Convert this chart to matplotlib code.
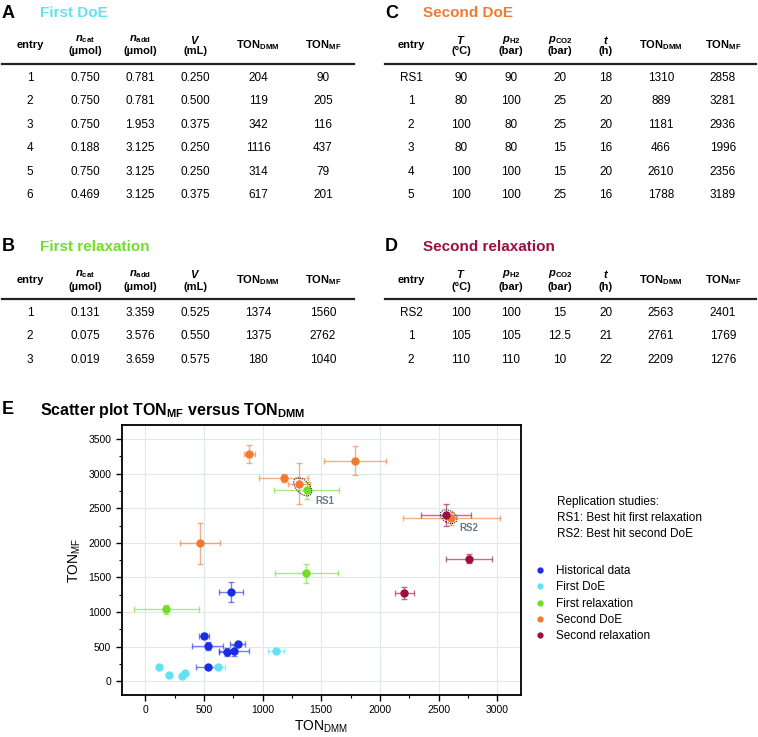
import matplotlib
matplotlib.use('Agg')
import matplotlib.pyplot as plt
from matplotlib.lines import Line2D
from matplotlib.patches import Ellipse
from matplotlib.colors import to_rgba
from matplotlib.ticker import MultipleLocator
from matplotlib.transforms import ScaledTranslation

plt.rcParams['font.family'] = ['Liberation Sans', 'DejaVu Sans']
plt.rcParams['mathtext.fontset'] = 'custom'
plt.rcParams['mathtext.rm'] = 'Liberation Sans'
plt.rcParams['mathtext.it'] = 'Liberation Sans:italic'
plt.rcParams['mathtext.bf'] = 'Liberation Sans:bold'
plt.rcParams['mathtext.bfit'] = 'Liberation Sans:italic:bold'
plt.rcParams['mathtext.sf'] = 'Liberation Sans'

# ---- table data ----
doe1_entry = ['1', '2', '3', '4', '5', '6']
doe1_ncat = ['0.750', '0.750', '0.750', '0.188', '0.750', '0.469']
doe1_nadd = ['0.781', '0.781', '1.953', '3.125', '3.125', '3.125']
doe1_vol = ['0.250', '0.500', '0.375', '0.250', '0.250', '0.375']
doe1_dmm = [204, 119, 342, 1116, 314, 617]
doe1_mf = [90, 205, 116, 437, 79, 201]

relax1_entry = ['1', '2', '3']
relax1_ncat = ['0.131', '0.075', '0.019']
relax1_nadd = ['3.359', '3.576', '3.659']
relax1_vol = ['0.525', '0.550', '0.575']
relax1_dmm = [1374, 1375, 180]
relax1_mf = [1560, 2762, 1040]

doe2_entry = ['RS1', '1', '2', '3', '4', '5']
doe2_T = ['90', '80', '100', '80', '100', '100']
doe2_pH2 = ['90', '100', '80', '80', '100', '100']
doe2_pCO2 = ['20', '25', '25', '15', '15', '25']
doe2_t = ['18', '20', '20', '16', '20', '16']
doe2_dmm = [1310, 889, 1181, 466, 2610, 1788]
doe2_mf = [2858, 3281, 2936, 1996, 2356, 3189]

relax2_entry = ['RS2', '1', '2']
relax2_T = ['100', '105', '110']
relax2_pH2 = ['100', '105', '110']
relax2_pCO2 = ['15', '12.5', '10']
relax2_t = ['20', '21', '22']
relax2_dmm = [2563, 2761, 2209]
relax2_mf = [2401, 1769, 1276]

# ---- scatter extras (error bars) ----
hist_dmm = [728, 501, 532, 788, 700, 754, 532]
hist_mf = [1289, 658, 509, 534, 418, 442, 211]
hist_xerr = [102, 43, 131, 63, 68, 128, 97]
hist_yerr = [151, 40, 63, 30, 60, 82, 30]

doe1_xerr = [0, 0, 0, 68, 0, 63]
doe1_yerr = [0, 0, 0, 20, 0, 15]
relax1_xerr = [270, 273, 276]
relax1_yerr = [140, 125, 63]
doe2_xerr = [97, 51, 209, 168, 415, 262]
doe2_yerr = [293, 127, 58, 298, 96, 207]
relax2_xerr = [213, 198, 81]
relax2_yerr = [159, 65, 82]

c_hist = '#1b2de0'
c_doe1 = '#62e2f4'
c_relax1 = '#70dd2a'
c_doe2 = '#f27a30'
c_relax2 = '#9c0f40'

W, H = 758, 737
fig = plt.figure(figsize=(W / 100, H / 100), dpi=100)


def fx(x):
    return x / W


def fy(y):
    return 1 - y / H


def put(x, y, s, **kw):
    kw.setdefault('ha', 'center')
    kw.setdefault('va', 'center')
    kw.setdefault('fontsize', 8.5)
    fig.text(fx(x), fy(y), s, **kw)


def rule(x0, x1, y):
    fig.add_artist(Line2D([fx(x0), fx(x1)], [fy(y), fy(y)], color='#222222',
                          lw=1.6, transform=fig.transFigure))


def section(letter, title, color, x0, y):
    put(x0, y, letter, ha='left', fontsize=13, fontweight='bold')
    put(x0 + 38, y, title, ha='left', fontsize=11, fontweight='bold', color=color)


def header(cols, heads, y_mid):
    for x, h in zip(cols, heads):
        if isinstance(h, tuple):
            put(x, y_mid - 5.5, h[0], fontsize=8)
            put(x, y_mid + 6.5, h[1], fontsize=8, fontweight='bold')
        else:
            put(x, y_mid, h, fontsize=8, fontweight='bold')


def body(cols, columns, y0, step=23.4):
    for ci, x in enumerate(cols):
        for ri, v in enumerate(columns[ci]):
            put(x, y0 + ri * step, str(v))


ton_dmm = r'$\mathbf{TON_{DMM}}$'
ton_mf = r'$\mathbf{TON_{MF}}$'
left_heads = ['entry',
              (r'$\mathbfit{n}_{\mathbf{cat}}$', '(µmol)'),
              (r'$\mathbfit{n}_{\mathbf{add}}$', '(µmol)'),
              (r'$\mathbfit{V}$', '(mL)'),
              ton_dmm, ton_mf]
right_heads = ['entry',
               (r'$\mathbfit{T}$', '(°C)'),
               (r'$\mathbfit{p}_{\mathbf{H2}}$', '(bar)'),
               (r'$\mathbfit{p}_{\mathbf{CO2}}$', '(bar)'),
               (r'$\mathbfit{t}$', '(h)'),
               ton_dmm, ton_mf]
left_cols = [30, 85, 140, 195, 258, 323]
right_cols = [411, 461, 511, 560, 606, 661, 723]

# A
section('A', 'First DoE', c_doe1, 2, 13)
header(left_cols, left_heads, 45)
rule(2, 354, 64)
body(left_cols, [doe1_entry, doe1_ncat, doe1_nadd, doe1_vol, doe1_dmm, doe1_mf], 78)

# B
section('B', 'First relaxation', c_relax1, 2, 247)
header(left_cols, left_heads, 280)
rule(2, 354, 299)
body(left_cols, [relax1_entry, relax1_ncat, relax1_nadd, relax1_vol, relax1_dmm, relax1_mf], 313)

# C
section('C', 'Second DoE', c_doe2, 385, 13)
header(right_cols, right_heads, 45)
rule(385, 756, 64)
body(right_cols, [doe2_entry, doe2_T, doe2_pH2, doe2_pCO2, doe2_t, doe2_dmm, doe2_mf], 78)

# D
section('D', 'Second relaxation', c_relax2, 385, 247)
header(right_cols, right_heads, 280)
rule(385, 756, 299)
body(right_cols, [relax2_entry, relax2_T, relax2_pH2, relax2_pCO2, relax2_t, relax2_dmm, relax2_mf], 313)

# E - scatter plot
put(2, 409, 'E', ha='left', fontsize=13, fontweight='bold')
put(40, 411, r'Scatter plot TON$_{\mathbf{MF}}$ versus TON$_{\mathbf{DMM}}$', ha='left',
    fontsize=11.5, fontweight='bold')

ax = fig.add_axes([fx(121.7), fy(695), (520.7 - 121.7) / W, (695 - 425.3) / H])

series = [
    ('Historical data', hist_dmm, hist_mf, hist_xerr, hist_yerr, c_hist),
    ('First DoE', doe1_dmm, doe1_mf, doe1_xerr, doe1_yerr, c_doe1),
    ('First relaxation', relax1_dmm, relax1_mf, relax1_xerr, relax1_yerr, c_relax1),
    ('Second DoE', doe2_dmm, doe2_mf, doe2_xerr, doe2_yerr, c_doe2),
    ('Second relaxation', relax2_dmm, relax2_mf, relax2_xerr, relax2_yerr, c_relax2),
]
handles = []
for name, x, y, xe, ye, c in series:
    ax.errorbar(x, y, xerr=xe, yerr=ye, fmt='o', ms=5, color=c,
                ecolor=to_rgba(c, 0.6), elinewidth=1.0, capsize=2.5, capthick=1.0,
                zorder=3)
    handles.append(Line2D([], [], ls='', marker='o', ms=3.5, color=c, label=name))

ax.set_xlim(-200, 3200)
ax.set_ylim(-200, 3700)
ax.xaxis.set_major_locator(MultipleLocator(500))
ax.xaxis.set_minor_locator(MultipleLocator(250))
ax.yaxis.set_major_locator(MultipleLocator(500))
ax.yaxis.set_minor_locator(MultipleLocator(250))
ax.grid(True, which='major', color='#dfe8ec', lw=0.8, zorder=0)
ax.set_axisbelow(True)
ax.tick_params(which='major', length=4, width=1, labelsize=7.5, direction='out')
ax.tick_params(which='minor', length=2, width=0.8, direction='out')
for s in ax.spines.values():
    s.set_linewidth(1.3)
ax.set_xlabel(r'TON$_{\mathrm{DMM}}$', fontsize=10, labelpad=2)
ax.set_ylabel(r'TON$_{\mathrm{MF}}$', fontsize=10, labelpad=4)

# replication study markers
rs = [((doe2_dmm[0] + relax1_dmm[1]) / 2, (doe2_mf[0] + relax1_mf[1]) / 2, 0.22, 0.13, -45, 'RS1', 1450, 2600),
      ((relax2_dmm[0] + doe2_dmm[4]) / 2, (relax2_mf[0] + doe2_mf[4]) / 2, 0.18, 0.12, -30, 'RS2', 2680, 2220)]
for cx, cy, w, h, ang, lab, tx, ty in rs:
    e = Ellipse((0, 0), w, h, angle=ang, fill=False, ls=(0, (1, 1)), lw=0.8, ec='#222222',
                transform=fig.dpi_scale_trans + ScaledTranslation(cx, cy, ax.transData), zorder=4)
    ax.add_patch(e)
    ax.text(tx, ty, lab, fontsize=7, fontweight='bold', color='#6c7a88', ha='left', va='center')

put(557, 502, 'Replication studies:', ha='left', fontsize=8.5)
put(557, 518, 'RS1: Best hit first relaxation', ha='left', fontsize=8.5)
put(557, 534, 'RS2: Best hit second DoE', ha='left', fontsize=8.5)

fig.legend(handles=handles, loc='upper left', bbox_to_anchor=(fx(536), fy(565)),
           frameon=False, fontsize=8.5, handlelength=0.6, handletextpad=1.1,
           labelspacing=0.37, borderaxespad=0, borderpad=0)

fig.savefig('out.png', dpi=100)
